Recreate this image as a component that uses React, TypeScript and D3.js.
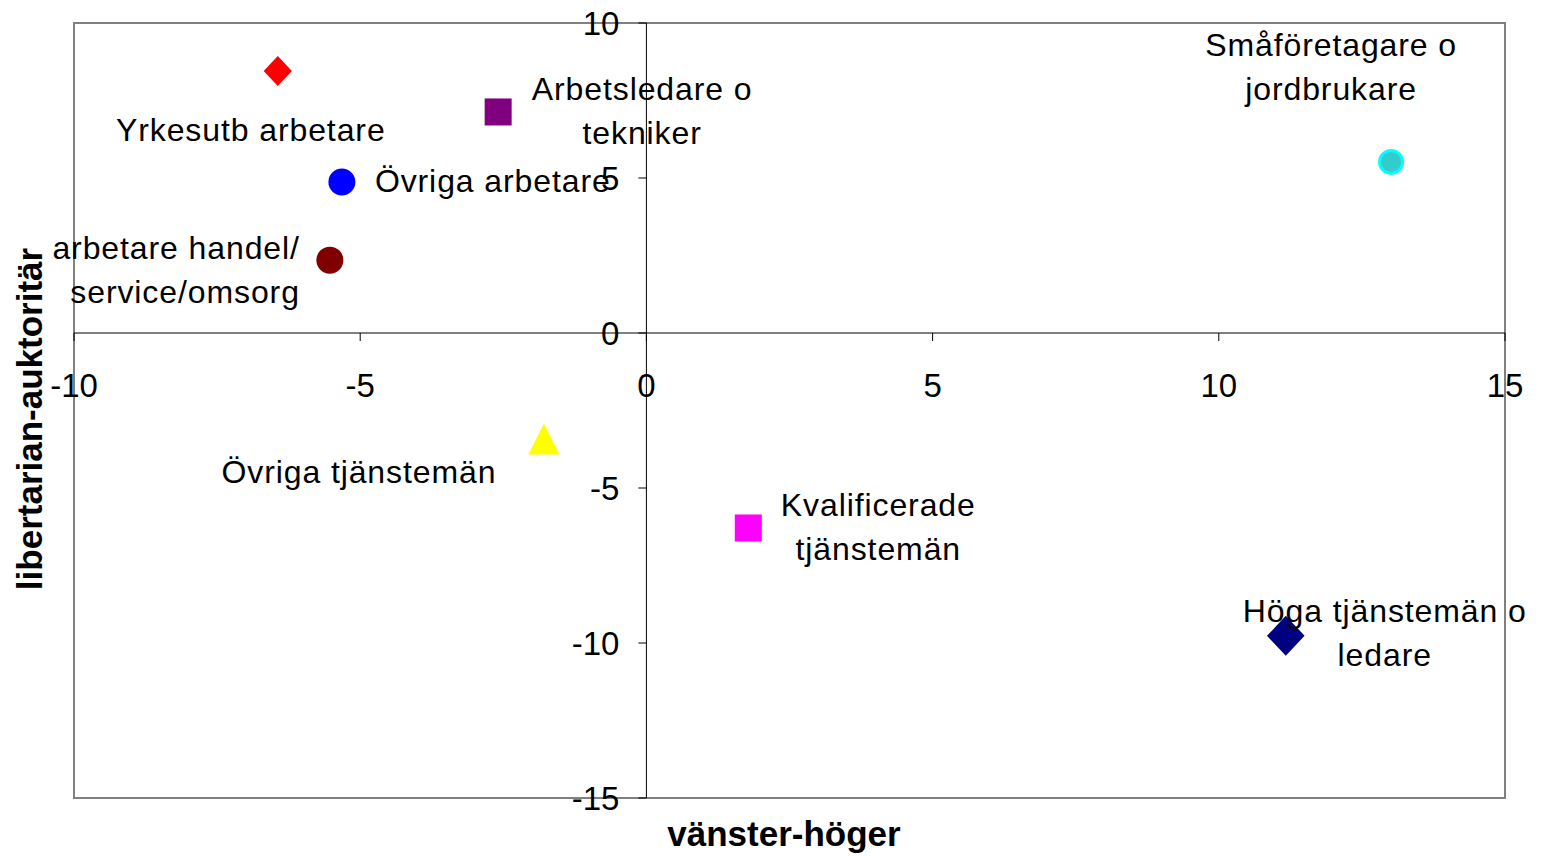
import React from "react";
import * as d3 from "d3";

const categories = [
  "Yrkesutb arbetare",
  "Arbetsledare o tekniker",
  "Övriga arbetare",
  "arbetare handel/ service/omsorg",
  "Småföretagare o jordbrukare",
  "Övriga tjänstemän",
  "Kvalificerade tjänstemän",
  "Höga tjänstemän o ledare",
];
const xValues = [-6.44, -2.59, -5.32, -5.53, 13.01, -1.79, 1.78, 11.17];
const yValues = [8.45, 7.13, 4.87, 2.35, 5.52, -3.42, -6.29, -9.77];
const labelLines = [
  ["Yrkesutb arbetare"],
  ["Arbetsledare o", "tekniker"],
  ["Övriga arbetare"],
  ["arbetare handel/", "service/omsorg"],
  ["Småföretagare o", "jordbrukare"],
  ["Övriga tjänstemän"],
  ["Kvalificerade", "tjänstemän"],
  ["Höga tjänstemän o", "ledare"],
];
const xTicks = [-10, -5, 0, 5, 10, 15];
const yTicks = [10, 5, 0, -5, -10, -15];

type Style = { shape: string; fill: string; stroke?: string; size: number };
const markerStyles: Style[] = [
  { shape: "diamond", fill: "#FF0000", size: 30 },
  { shape: "square", fill: "#800080", size: 27 },
  { shape: "circle", fill: "#0000FF", size: 27 },
  { shape: "circle", fill: "#800000", size: 27 },
  { shape: "circle", fill: "#33CCCC", stroke: "#00FFFF", size: 26 },
  { shape: "triangle", fill: "#FFFF00", size: 31 },
  { shape: "square", fill: "#FF00FF", size: 27 },
  { shape: "diamond", fill: "#000080", size: 40 },
];
// label offsets relative to point (dx, dy of first baseline, anchor)
const labelPos: [number, number, string][] = [
  [-27, 70, "middle"],
  [144, -12, "middle"],
  [33, 10, "start"],
  [-30, -1, "end"],
  [-60, -106, "middle"],
  [-185, 44, "middle"],
  [130, -12, "middle"],
  [99, -14, "middle"],
];

const W = 1541;
const H = 856;
const left = 74, right = 1505, top = 23, bottom = 798;
const FONT = "'Liberation Sans', Arial, sans-serif";

export default function App() {
  const x = d3.scaleLinear().domain([-10, 15]).range([left, right]);
  const y = d3.scaleLinear().domain([-15, 10]).range([bottom, top]);
  const x0 = x(0);
  const y0 = y(0);

  const marker = (s: Style, cx: number, cy: number, key: number) => {
    const r = s.size / 2;
    if (s.shape === "circle")
      return <circle key={key} cx={cx} cy={cy} r={s.stroke ? r - 1.5 : r} fill={s.fill} stroke={s.stroke || "none"} strokeWidth={3} />;
    if (s.shape === "square")
      return <rect key={key} x={cx - r} y={cy - r} width={s.size} height={s.size} fill={s.fill} />;
    if (s.shape === "diamond") {
      const w = s.size * 0.47;
      return <path key={key} d={`M${cx},${cy - r}L${cx + w},${cy}L${cx},${cy + r}L${cx - w},${cy}Z`} fill={s.fill} />;
    }
    return <path key={key} d={`M${cx},${cy - r}L${cx + r},${cy + r}L${cx - r},${cy + r}Z`} fill={s.fill} />;
  };

  return (
    <svg width={W} height={H} style={{ position: "absolute", left: 0, top: 0, background: "#fff" }} fontFamily={FONT}>
      <rect x={0} y={0} width={W} height={H} fill="#fff" />
      <rect x={left} y={top} width={right - left} height={bottom - top} fill="none" stroke="#808080" strokeWidth={2} />
      {/* axes */}
      <line x1={left} x2={right} y1={y0} y2={y0} stroke="#000" strokeWidth={1} />
      <line x1={x0} x2={x0} y1={top} y2={bottom} stroke="#000" strokeWidth={1} />
      {xTicks.map((t) => (
        <g key={"xt" + t}>
          <line x1={x(t)} x2={x(t)} y1={y0} y2={y0 + 8} stroke="#000" />
          <text x={x(t)} y={y0 + 64} textAnchor="middle" fontSize={33} fill="#000">{t}</text>
        </g>
      ))}
      {yTicks.map((t) => (
        <g key={"yt" + t}>
          <line x1={x0 - 8} x2={x0} y1={y(t)} y2={y(t)} stroke="#000" />
          <text x={x0 - 27} y={y(t) + 12} textAnchor="end" fontSize={33} fill="#000">{t}</text>
        </g>
      ))}
      {categories.map((c, i) => marker(markerStyles[i], x(xValues[i]), y(yValues[i]), i))}
      {categories.map((c, i) => {
        const [dx, dy, anchor] = labelPos[i];
        const px = x(xValues[i]);
        const py = y(yValues[i]);
        return (
          <text key={"l" + i} x={px + dx} y={py + dy} textAnchor={anchor as any} fontSize={32} letterSpacing={0.9} fill="#000">
            {labelLines[i].map((ln, j) => (
              <tspan key={j} x={px + dx} dy={j === 0 ? 0 : 44}>{ln}</tspan>
            ))}
          </text>
        );
      })}
      <text x={784} y={846} textAnchor="middle" fontSize={35} fontWeight="bold" fill="#000">vänster-höger</text>
      <text transform={`translate(42, 419) rotate(-90)`} textAnchor="middle" fontSize={35} fontWeight="bold" fill="#000">libertarian-auktoritär</text>
    </svg>
  );
}
